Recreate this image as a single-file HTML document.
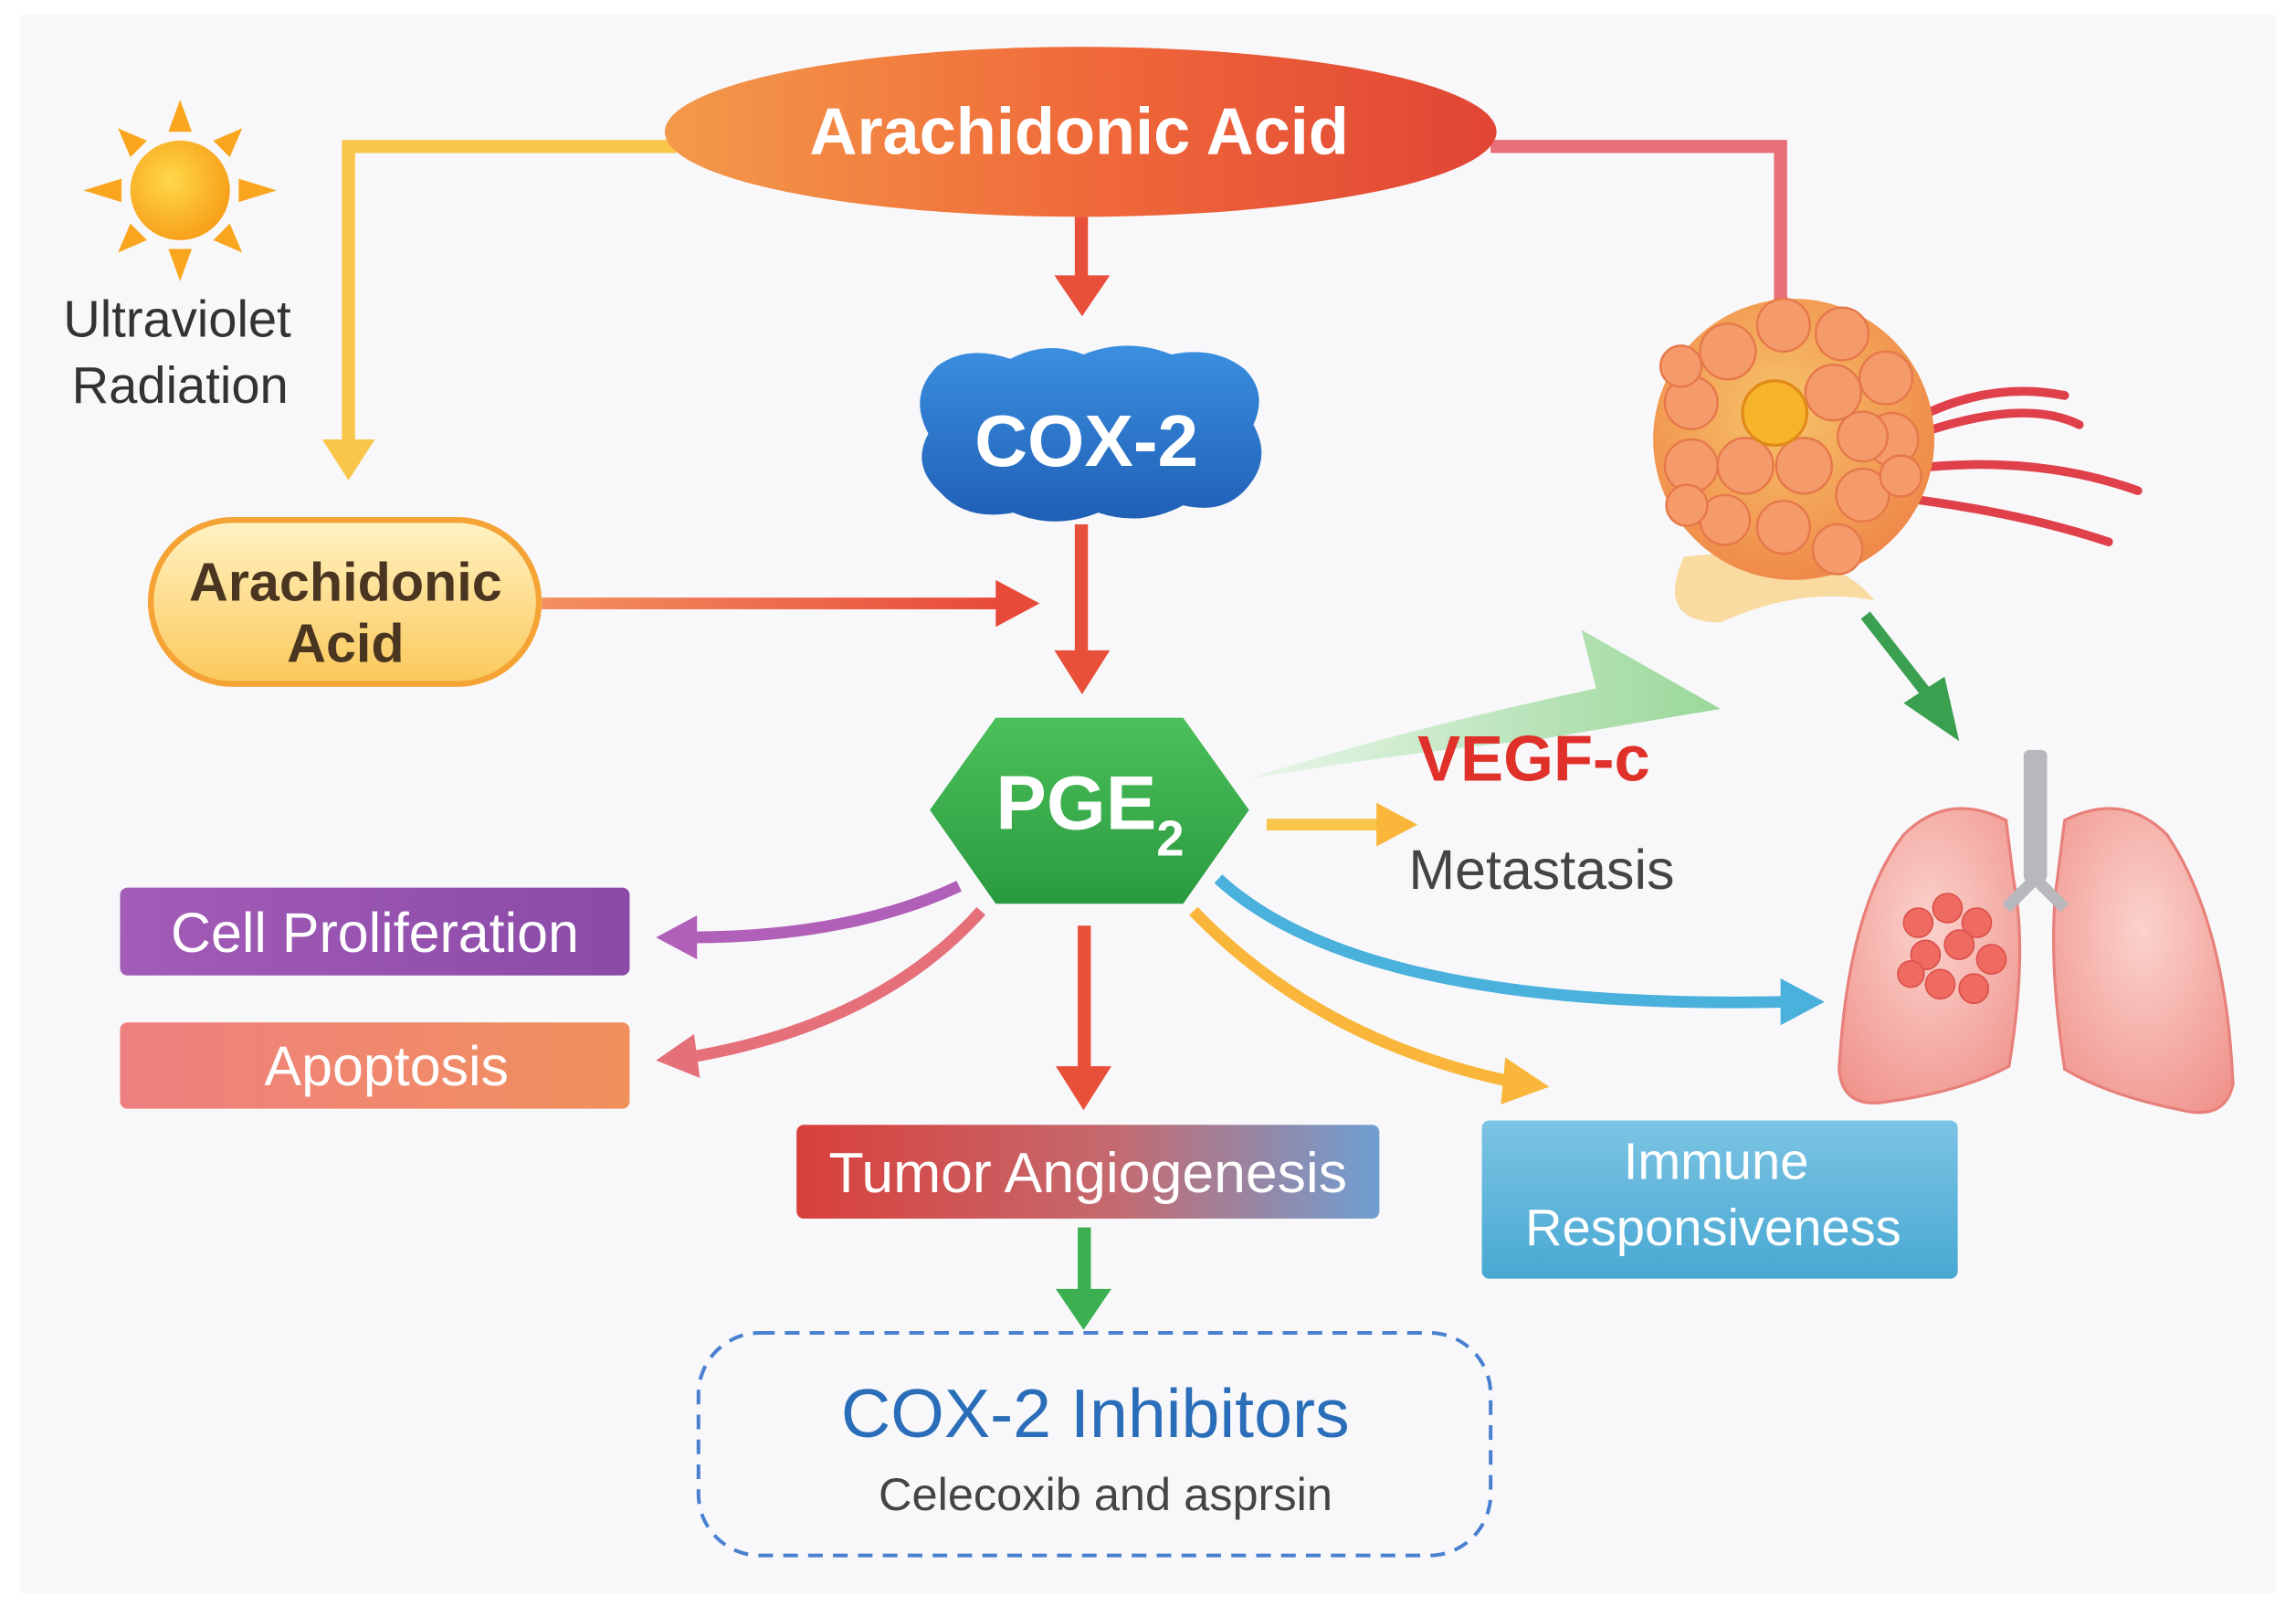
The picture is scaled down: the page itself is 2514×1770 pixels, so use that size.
<!DOCTYPE html>
<html><head><meta charset="utf-8"><style>
html,body{margin:0;padding:0;background:#fff;}
svg{display:block;}
text{font-family:"Liberation Sans","DejaVu Sans",sans-serif;}
</style></head><body>
<svg width="2514" height="1770" viewBox="0 0 1568 1104" preserveAspectRatio="none" xmlns="http://www.w3.org/2000/svg">
<defs>
<linearGradient id="gTop" x1="0" x2="1"><stop offset="0" stop-color="#f39a4a"/><stop offset="0.5" stop-color="#f06a3a"/><stop offset="1" stop-color="#e14535"/></linearGradient>
<linearGradient id="gPill" x1="0" y1="0" x2="0" y2="1"><stop offset="0" stop-color="#fff3c4"/><stop offset="1" stop-color="#fbc85a"/></linearGradient>
<linearGradient id="gCox" x1="0" y1="0" x2="0" y2="1"><stop offset="0" stop-color="#3b8fe0"/><stop offset="1" stop-color="#1f5fb5"/></linearGradient>
<linearGradient id="gPge" x1="0" y1="0" x2="0" y2="1"><stop offset="0" stop-color="#4cc05a"/><stop offset="1" stop-color="#2a9a40"/></linearGradient>
<linearGradient id="gCell" x1="0" x2="1"><stop offset="0" stop-color="#a35cb8"/><stop offset="1" stop-color="#8a4aa6"/></linearGradient>
<linearGradient id="gApo" x1="0" x2="1"><stop offset="0" stop-color="#ef8080"/><stop offset="1" stop-color="#f0905c"/></linearGradient>
<linearGradient id="gTum" x1="0" x2="1"><stop offset="0" stop-color="#d9403a"/><stop offset="0.55" stop-color="#c46a70"/><stop offset="1" stop-color="#6f9fd2"/></linearGradient>
<linearGradient id="gImm" x1="0" y1="0" x2="0" y2="1"><stop offset="0" stop-color="#7cc4e4"/><stop offset="1" stop-color="#48a8d2"/></linearGradient>
<linearGradient id="gArr" x1="0" x2="1"><stop offset="0" stop-color="#f39060"/><stop offset="1" stop-color="#e84a3a"/></linearGradient>
<linearGradient id="gVeg" x1="0" x2="1"><stop offset="0" stop-color="#e8f6e8"/><stop offset="1" stop-color="#8fd48f"/></linearGradient>
<radialGradient id="gTumor" cx="0.45" cy="0.4" r="0.6"><stop offset="0" stop-color="#f7c46a"/><stop offset="1" stop-color="#ef8a4a"/></radialGradient>
<radialGradient id="gLung" cx="0.5" cy="0.4" r="0.7"><stop offset="0" stop-color="#fbd2cc"/><stop offset="1" stop-color="#f0958e"/></radialGradient>
<radialGradient id="gSun" cx="0.4" cy="0.4" r="0.6"><stop offset="0" stop-color="#ffd84a"/><stop offset="1" stop-color="#f7a21a"/></radialGradient>
</defs>
<rect x="0" y="0" width="1568" height="1104" fill="#fff"/>
<rect x="14" y="10" width="1540" height="1078" fill="#f8f8fa"/>

<polyline points="462,100 238,100 238,305" fill="none" stroke="#f9c54a" stroke-width="9"/>
<polygon points="220,300 256,300 238,328" fill="#f9c54a"/>
<polyline points="1018,100 1216,100 1216,205" fill="none" stroke="#e8707a" stroke-width="9"/>

<g transform="translate(123,130)" fill="#f9a61e">
<polygon points="-8,-40 8,-40 0,-62"/><polygon points="-8,40 8,40 0,62"/>
<polygon points="-40,-8 -40,8 -66,0"/><polygon points="40,-8 40,8 66,0"/>
<g transform="rotate(45)"><polygon points="-8,-40 8,-40 0,-60"/><polygon points="-8,40 8,40 0,60"/><polygon points="-40,-8 -40,8 -60,0"/><polygon points="40,-8 40,8 60,0"/></g>
<circle r="34" fill="url(#gSun)"/>
</g>
<text x="121" y="230" font-size="35" fill="#333" text-anchor="middle">Ultraviolet</text>
<text x="123" y="275" font-size="35" fill="#333" text-anchor="middle">Radiation</text>

<ellipse cx="738" cy="90" rx="284" ry="58" fill="url(#gTop)"/>
<text x="737" y="105" font-size="45" font-weight="bold" fill="#fff" text-anchor="middle">Arachidonic Acid</text>

<rect x="734" y="148" width="9" height="44" fill="#e8503a"/>
<polygon points="720,188 758,188 739,216" fill="#e8503a"/>
<rect x="734" y="358" width="9" height="90" fill="#e8503a"/>
<polygon points="720,444 758,444 739,474" fill="#e8503a"/>

<path d="M640,250 Q660,235 690,245 Q715,232 740,242 Q770,230 800,242 Q830,236 850,252 Q866,268 856,290 Q868,312 854,330 Q838,352 808,345 Q780,360 750,350 Q720,362 692,350 Q660,356 642,336 Q622,318 634,296 Q620,270 640,250 Z" fill="url(#gCox)"/>
<text x="742" y="318" font-size="50" font-weight="bold" fill="#fff" text-anchor="middle">COX-2</text>

<rect x="103" y="355" width="265" height="112" rx="56" fill="url(#gPill)" stroke="#f5a335" stroke-width="4"/>
<text x="236" y="410" font-size="37" font-weight="bold" fill="#4a3520" text-anchor="middle">Arachidonic</text>
<text x="236" y="452" font-size="37" font-weight="bold" fill="#4a3520" text-anchor="middle">Acid</text>
<rect x="370" y="408" width="315" height="8" fill="url(#gArr)"/>
<polygon points="680,396 680,428 710,412" fill="#e84a3a"/>

<path d="M852,532 Q950,500 1090,470 L1080,430 L1175,484 L1050,505 Q950,515 852,532 Z" fill="url(#gVeg)" opacity="0.9"/>
<text x="968" y="533" font-size="44" font-weight="bold" fill="#e0302a">VEGF-c</text>

<polygon points="635,553 680,490 808,490 853,553 808,617 680,617" fill="url(#gPge)"/>
<text x="680" y="566" font-size="52" font-weight="bold" fill="#fff">PGE<tspan font-size="34" dy="18">2</tspan></text>

<rect x="865" y="559" width="80" height="8" fill="#f9c54a"/>
<polygon points="940,548 940,578 968,563" fill="#f9b63a"/>
<text x="962" y="607" font-size="38" fill="#444">Metastasis</text>

<rect x="82" y="606" width="348" height="60" rx="5" fill="url(#gCell)"/>
<text x="256" y="650" font-size="38" fill="#fff" text-anchor="middle">Cell Proliferation</text>
<rect x="82" y="698" width="348" height="59" rx="5" fill="url(#gApo)"/>
<text x="264" y="741" font-size="38" fill="#fff" text-anchor="middle">Apoptosis</text>

<path d="M655,605 Q580,640 470,640" fill="none" stroke="#b060b8" stroke-width="8"/>
<polygon points="476,625 476,655 448,640" fill="#b060b8"/>
<path d="M670,622 Q600,700 470,722" fill="none" stroke="#e5707a" stroke-width="8"/>
<polygon points="474,706 478,736 448,724" fill="#e5707a"/>

<rect x="736" y="632" width="9" height="100" fill="#e8503a"/>
<polygon points="721,728 759,728 740,758" fill="#e8503a"/>
<rect x="544" y="768" width="398" height="64" rx="5" fill="url(#gTum)"/>
<text x="743" y="814" font-size="39" fill="#fff" text-anchor="middle">Tumor Angiogenesis</text>
<rect x="736" y="838" width="9" height="46" fill="#3cb050"/>
<polygon points="721,880 759,880 740,908" fill="#3cb050"/>

<rect x="477" y="910" width="541" height="152" rx="42" fill="none" stroke="#4a80d0" stroke-width="2.5" stroke-dasharray="10,7"/>
<text x="748" y="981" font-size="47" fill="#2a6db8" text-anchor="middle">COX-2 Inhibitors</text>
<text x="755" y="1031" font-size="31.5" fill="#444" text-anchor="middle">Celecoxib and asprsin</text>

<path d="M815,622 Q900,710 1030,738" fill="none" stroke="#f9b63a" stroke-width="8"/>
<polygon points="1028,722 1025,754 1058,742" fill="#f9b63a"/>
<path d="M832,600 Q930,690 1220,684" fill="none" stroke="#4ab0dc" stroke-width="8"/>
<polygon points="1216,668 1216,700 1246,684" fill="#4ab0dc"/>

<rect x="1012" y="765" width="325" height="108" rx="5" fill="url(#gImm)"/>
<text x="1172" y="805" font-size="35" fill="#fff" text-anchor="middle">Immune</text>
<text x="1170" y="850" font-size="35" fill="#fff" text-anchor="middle">Responsiveness</text>

<g stroke="#e0404a" stroke-width="6" fill="none" stroke-linecap="round">
<path d="M1300,300 Q1380,270 1420,290"/><path d="M1305,320 Q1390,310 1460,335"/><path d="M1300,340 Q1380,350 1440,370"/><path d="M1310,285 Q1360,260 1410,270"/>
</g>
<path d="M1150,380 Q1130,425 1175,425 Q1230,400 1280,410 Q1250,370 1150,380 Z" fill="#f9d28a" opacity="0.8"/>
<circle cx="1225" cy="300" r="96" fill="url(#gTumor)"/>
<g fill="#f59a6a" stroke="#e6784a" stroke-width="1.5">
<circle cx="1180" cy="240" r="19"/><circle cx="1218" cy="222" r="18"/><circle cx="1258" cy="228" r="18"/><circle cx="1288" cy="258" r="18"/>
<circle cx="1155" cy="275" r="18"/><circle cx="1252" cy="268" r="19"/><circle cx="1292" cy="300" r="18"/><circle cx="1155" cy="318" r="18"/>
<circle cx="1192" cy="318" r="19"/><circle cx="1232" cy="318" r="19"/><circle cx="1272" cy="338" r="18"/><circle cx="1178" cy="355" r="17"/>
<circle cx="1218" cy="360" r="18"/><circle cx="1255" cy="375" r="17"/><circle cx="1148" cy="250" r="14"/><circle cx="1272" cy="298" r="17"/>
<circle cx="1152" cy="345" r="14"/><circle cx="1298" cy="325" r="14"/>
</g>
<circle cx="1212" cy="282" r="22" fill="#f7b32a" stroke="#e08a1a" stroke-width="2"/>

<rect x="1270" y="420" width="8" height="70" fill="#3aa050" transform="rotate(-38 1274 420)"/>
<polygon points="1300,480 1328,462 1338,506" fill="#3aa050"/>

<rect x="1382" y="512" width="16" height="90" rx="4" fill="#b8b8bc"/>
<path d="M1370,560 Q1330,540 1300,570 Q1262,620 1256,730 Q1258,758 1290,752 Q1340,745 1372,728 Q1385,650 1375,600 Z" fill="url(#gLung)" stroke="#e8807a" stroke-width="2"/>
<path d="M1410,560 Q1450,540 1480,570 Q1520,630 1525,740 Q1520,765 1490,758 Q1440,748 1410,730 Q1398,650 1405,600 Z" fill="url(#gLung)" stroke="#e8807a" stroke-width="2"/>
<path d="M1390,600 L1370,620 M1390,600 L1410,620" stroke="#b8b8bc" stroke-width="8" fill="none"/>
<g fill="#ef6a60" stroke="#d9504a" stroke-width="1">
<circle cx="1310" cy="630" r="10"/><circle cx="1330" cy="620" r="10"/><circle cx="1350" cy="630" r="10"/><circle cx="1315" cy="652" r="10"/>
<circle cx="1338" cy="645" r="10"/><circle cx="1360" cy="655" r="10"/><circle cx="1325" cy="672" r="10"/><circle cx="1348" cy="675" r="10"/><circle cx="1305" cy="665" r="9"/>
</g>
</svg>
</body></html>
